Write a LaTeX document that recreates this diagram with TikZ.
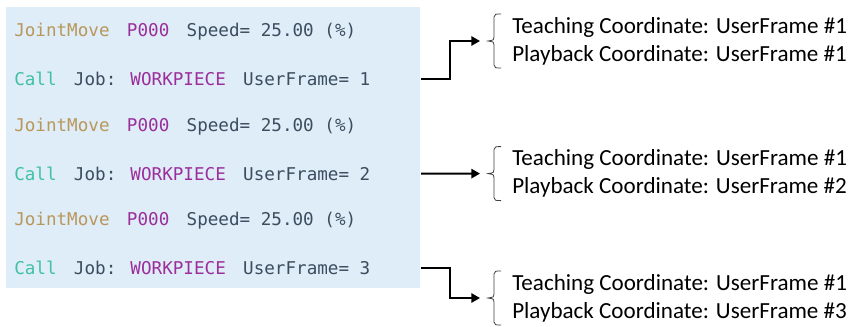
\documentclass[tikz,border=0pt]{standalone}
\usepackage{fontspec}
\setmainfont{Carlito}
\newfontfamily\codefont{DejaVu Sans Mono}
\usetikzlibrary{arrows.meta}

\definecolor{codebg}{RGB}{222,237,248}
\definecolor{plaincol}{RGB}{59,77,95}
\definecolor{jmcol}{RGB}{185,151,91}
\definecolor{ptcol}{RGB}{155,46,155}
\definecolor{callcol}{RGB}{64,192,168}

\newcommand{\gap}{\hspace{13pt}}
\newcommand{\jmline}{{\color{jmcol}JointMove}\gap{\color{ptcol}P000}\gap Speed= 25.00 (\%)}
\newcommand{\callline}[1]{{\color{callcol}Call}\gap Job: {\color{ptcol}WORKPIECE}\gap UserFrame= #1}

\tikzset{
  codeline/.style={anchor=west, inner sep=0pt, text=plaincol,
    font=\codefont\fontsize{13.2pt}{16pt}\selectfont},
  note/.style={anchor=west, inner sep=0pt, align=left,
    font=\fontsize{17.3pt}{21pt}\selectfont},
  conn/.style={line width=1.4pt, -{Triangle[length=6.5pt,width=7pt]}, shorten >=6pt},
  bracket/.style={line width=0.6pt, draw=black!75}
}

\begin{document}
\begin{tikzpicture}[x=0.75pt,y=-0.75pt]
  \useasboundingbox (0,0) rectangle (862,326);

  % code listing
  \fill[codebg] (6,7) rectangle (420,288);
  \coordinate (boxE) at (421,0);
  \foreach \i/\txt in {1/\jmline, 2/\callline{1}, 3/\jmline,
                       4/\callline{2}, 5/\jmline, 6/\callline{3}} {
    \node[codeline] (l\i) at (14,{32+47.2*(\i-1)}) {\txt};
  }

  % coordinate notes
  \node[note] (t1) at (512,41)
    {Teaching Coordinate: UserFrame \#1\\Playback Coordinate: UserFrame \#1};
  \node[note] (t2) at (512,173.6)
    {Teaching Coordinate: UserFrame \#1\\Playback Coordinate: UserFrame \#2};
  \node[note] (t3) at (512,298)
    {Teaching Coordinate: UserFrame \#1\\Playback Coordinate: UserFrame \#3};

  % brackets
  \foreach \t in {t1,t2,t3} {
    \begin{scope}[shift={(\t.west)}]
      \draw[bracket] (-11,-27) .. controls (-17,-27) .. (-18,-24) -- (-18,-4)
        .. controls (-18,-1) .. (-24,0) .. controls (-18,1) .. (-18,4)
        -- (-18,24) .. controls (-17,27) .. (-11,27);
      \coordinate (\t tip) at (-24,0);
    \end{scope}
  }

  % connectors
  \draw[conn] (boxE |- l2.east) -- ++(29,0) |- (t1tip);
  \draw[conn] (boxE |- l4.east) -- (t2tip);
  \draw[conn] (boxE |- l6.east) -- ++(29,0) |- (t3tip);
\end{tikzpicture}
\end{document}
